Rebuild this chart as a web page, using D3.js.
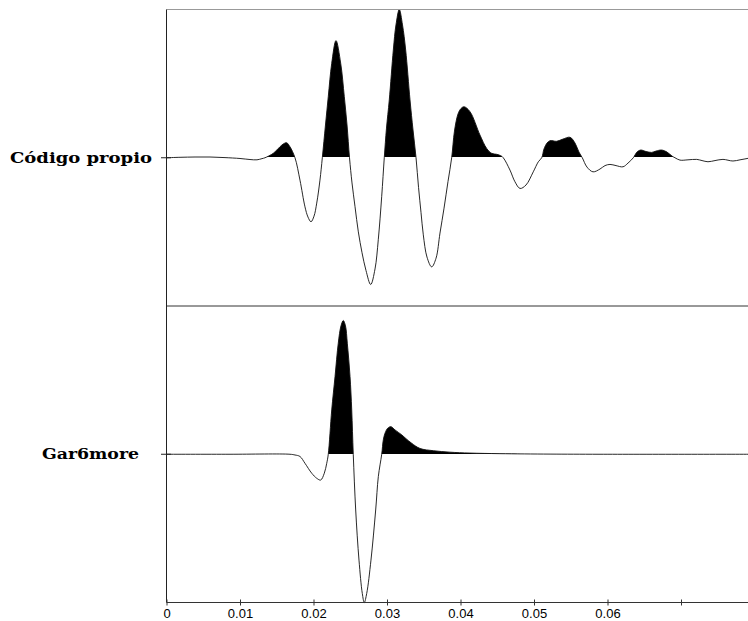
<!DOCTYPE html>
<html>
<head>
<meta charset="utf-8">
<script src="https://cdn.jsdelivr.net/npm/d3@7/dist/d3.min.js"></script>
<style>
  html, body { margin: 0; padding: 0; background: #fff; }
  svg { display: block; }
</style>
</head>
<body>
<svg id="chart" width="748" height="621"></svg>
<script>
// Trace names, top to bottom
const traceNames = ["Código propio", "Gar6more"];

// "Código propio" trace: time (s) and normalised amplitude
const timeOwn = [0, 0.00184, 0.00388, 0.00592, 0.00796, 0.0100, 0.01136, 0.01231, 0.01299, 0.01340,
  0.01453, 0.01544, 0.01592, 0.01635, 0.01680, 0.01748, 0.01816, 0.01884, 0.01925, 0.01966,
  0.02007, 0.02044, 0.02088, 0.02120, 0.02163, 0.02201, 0.02248, 0.02306, 0.02370, 0.02419,
  0.02456, 0.02490, 0.02524, 0.02565, 0.02610, 0.02660, 0.02714, 0.02778, 0.02837, 0.02882,
  0.02928, 0.02963, 0.02993, 0.03031, 0.03086, 0.03122, 0.03167, 0.03211, 0.03254, 0.03313,
  0.03354, 0.03395, 0.03429, 0.03463, 0.03494, 0.03544, 0.03608, 0.03667, 0.03721, 0.03776,
  0.03830, 0.03880, 0.03918, 0.03966, 0.04007, 0.04048, 0.04129, 0.04265, 0.04356, 0.04424,
  0.04493, 0.04547, 0.04582, 0.04673, 0.04741, 0.04810, 0.04891, 0.04990, 0.05059, 0.05105,
  0.05136, 0.05177, 0.05218, 0.05309, 0.05395, 0.05490, 0.05558, 0.05612, 0.05657, 0.05721,
  0.05803, 0.05898, 0.05966, 0.06034, 0.06116, 0.06211, 0.06279, 0.06351, 0.06401, 0.06452,
  0.06524, 0.06601, 0.06660, 0.06737, 0.06810, 0.06878, 0.06918, 0.06986, 0.07095, 0.07214,
  0.07286, 0.07367, 0.07463, 0.07571, 0.07707, 0.07803, 0.07912, 0.08000];
const ampOwn = [0, 0.003, 0.005, 0.005, 0.001, -0.005, -0.012, -0.014, -0.006, 0,
  0.030, 0.074, 0.094, 0.101, 0.074, 0, -0.151, -0.331, -0.400, -0.432,
  -0.394, -0.306, -0.151, 0, 0.221, 0.412, 0.637, 0.790, 0.637, 0.412,
  0.221, 0, -0.170, -0.330, -0.500, -0.640, -0.760, -0.855, -0.750, -0.550,
  -0.260, 0, 0.200, 0.390, 0.727, 0.896, 1.000, 0.896, 0.727, 0.390,
  0.187, 0, -0.200, -0.370, -0.520, -0.670, -0.736, -0.678, -0.508, -0.340,
  -0.160, 0, 0.180, 0.295, 0.332, 0.344, 0.311, 0.153, 0.063, 0.030,
  0.023, 0.014, 0, -0.083, -0.162, -0.207, -0.184, -0.095, -0.027, 0,
  0.059, 0.099, 0.115, 0.111, 0.126, 0.138, 0.099, 0.038, 0, -0.063,
  -0.095, -0.076, -0.053, -0.045, -0.053, -0.061, -0.036, 0, 0.038, 0.052,
  0.042, 0.036, 0.045, 0.052, 0.038, 0.011, 0, -0.016, -0.014, -0.011,
  -0.019, -0.027, -0.019, -0.011, -0.022, -0.014, -0.004, 0.005];

// "Gar6more" trace: time (s) and normalised amplitude
const timeGar = [0, 0.00864, 0.01680, 0.01748, 0.01816, 0.01884, 0.01976, 0.02044, 0.02098, 0.02147,
  0.02180, 0.02201, 0.02248, 0.02293, 0.02337, 0.02374, 0.02405, 0.02435, 0.02460, 0.02497,
  0.02520, 0.02541, 0.02574, 0.02619, 0.02664, 0.02691, 0.02724, 0.02782, 0.02846, 0.02882,
  0.02928, 0.02950, 0.02973, 0.03010, 0.03054, 0.03109, 0.03200, 0.03259, 0.03336, 0.03449,
  0.03630, 0.03857, 0.04129, 0.04537, 0.05218, 0.05898, 0.08000];
const ampGar = [0, 0, 0, -0.005, -0.015, -0.061, -0.128, -0.162, -0.174, -0.128,
  -0.061, 0, 0.299, 0.524, 0.749, 0.866, 0.902, 0.866, 0.749, 0.524,
  0.299, 0, -0.376, -0.714, -0.939, -1.000, -0.939, -0.714, -0.376, -0.151,
  0, 0.097, 0.142, 0.176, 0.186, 0.164, 0.131, 0.105, 0.074, 0.039,
  0.024, 0.014, 0.008, 0.004, 0.001, 0, 0];

// Time axis ticks
const tickValues = [0, 0.01, 0.02, 0.03, 0.04, 0.05, 0.06, 0.07];
const tickLabels = ["0", "0.01", "0.02", "0.03", "0.04", "0.05", "0.06", ""];

const svg = d3.select("#chart");
const W = 748;

const x = d3.scaleLinear().domain([0, 0.08]).range([166.5, 754.5]);
// Vertical trace positions: top trace at 2, bottom trace at 1; each lane spans one unit
const y = d3.scaleLinear().domain([0.5, 2.5]).range([602.5, 9.5]);
const halfLane = 0.5;

const traces = [
  { name: traceNames[0], pos: 2, t: timeOwn, a: ampOwn, labelX: 10, labelLen: 142 },
  { name: traceNames[1], pos: 1, t: timeGar, a: ampGar, labelX: 42, labelLen: 97 }
];

const defs = svg.append("defs");
const curve = d3.curveCatmullRom.alpha(0.5);

traces.forEach((tr, i) => {
  const pts = tr.t.map((t, k) => [t, tr.a[k]]);
  const base = y(tr.pos);
  const line = d3.line()
    .x(d => x(d[0]))
    .y(d => y(tr.pos + halfLane * d[1]))
    .curve(curve);
  const area = d3.area()
    .x(d => x(d[0]))
    .y0(base)
    .y1(d => y(tr.pos + halfLane * d[1]))
    .curve(curve);

  // Positive lobes are filled: clip the area to the part above the zero line
  const clipId = "pos-" + i;
  defs.append("clipPath").attr("id", clipId)
    .append("rect")
    .attr("x", 0).attr("y", 0)
    .attr("width", W).attr("height", Math.floor(base));

  svg.append("path")
    .datum(pts)
    .attr("d", area)
    .attr("fill", "#000")
    .attr("clip-path", `url(#${clipId})`);

  svg.append("path")
    .datum(pts)
    .attr("d", line)
    .attr("fill", "none")
    .attr("stroke", "#111")
    .attr("stroke-width", 0.9);

  // Trace label and its tick on the left axis
  svg.append("line")
    .attr("x1", 161).attr("x2", 171)
    .attr("y1", base).attr("y2", base)
    .attr("stroke", "#222").attr("stroke-width", 1);

  svg.append("text")
    .attr("x", tr.labelX)
    .attr("y", base + 5)
    .attr("font-family", "'DejaVu Serif', 'Liberation Serif', serif")
    .attr("font-weight", "bold")
    .attr("font-size", 15)
    .attr("textLength", tr.labelLen)
    .attr("lengthAdjust", "spacingAndGlyphs")
    .attr("fill", "#000")
    .text(tr.name);
});

// Frame: top edge, lane separator, left axis
svg.append("line")
  .attr("x1", x(0)).attr("x2", W)
  .attr("y1", y(2.5)).attr("y2", y(2.5))
  .attr("stroke", "#999").attr("stroke-width", 1);
svg.append("line")
  .attr("x1", x(0)).attr("x2", W)
  .attr("y1", y(1.5)).attr("y2", y(1.5))
  .attr("stroke", "#333").attr("stroke-width", 1);
svg.append("line")
  .attr("x1", x(0)).attr("x2", x(0))
  .attr("y1", y(2.5)).attr("y2", y(0.5))
  .attr("stroke", "#222").attr("stroke-width", 1);

// Time axis
const xAxis = d3.axisBottom(x)
  .tickValues(tickValues)
  .tickFormat((d, i) => tickLabels[i])
  .tickSizeInner(3)
  .tickSizeOuter(0)
  .tickPadding(3);

const gx = svg.append("g")
  .attr("transform", `translate(0,${y(0.5)})`)
  .call(xAxis);
gx.select(".domain")
  .attr("d", `M${x(0)},0H${W}`)
  .attr("stroke", "#333");
gx.selectAll(".tick line")
  .attr("y1", -3).attr("y2", 3)
  .attr("stroke", "#333");
gx.selectAll(".tick text")
  .attr("font-family", "'Liberation Sans', Arial, sans-serif")
  .attr("font-size", 13)
  .attr("fill", "#000");
</script>
</body>
</html>
